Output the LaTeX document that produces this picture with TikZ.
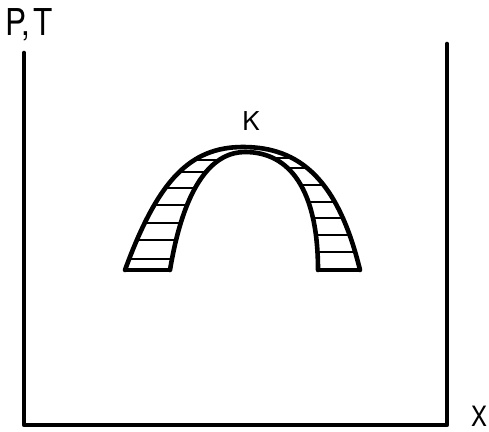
\documentclass[tikz,border=0pt]{standalone}
\usepackage{fontspec}
\setmainfont{TeX Gyre Heros}
\begin{document}
\begin{tikzpicture}[x=1pt,y=-1pt,
  axis/.style={line width=4.6pt,line cap=round,line join=round},
  curve/.style={line width=4.6pt,line cap=round},
  rung/.style={line width=2.8pt},
  lbl/.style={inner sep=0pt}]
\useasboundingbox (0,0) rectangle (489,431);
% axes
\coordinate (top) at (24,53);
\coordinate (origin) at (24,425);
\coordinate (xend) at (447,425);
\coordinate (rtop) at (447,44);
\draw[axis] (top) -- (origin) -- (xend) -- (rtop);
\node[lbl,anchor=base west,font=\fontsize{37}{37}\selectfont,xscale=0.85] (pt) at (5,35) {P,\hspace{3pt}T};
\node[lbl,anchor=base west,font=\fontsize{28}{28}\selectfont,xscale=0.85] (xl) at (471,426) {X};
\node[lbl,anchor=base,font=\fontsize{26}{26}\selectfont] (k) at (251,130) {K};
% band region
\def\outerpath{(125,270) .. controls (158,180) and (190,147) .. (243,147) .. controls (300,147) and (338,180) .. (360,270)}
\def\innerpath{(318,270) .. controls (318,190) and (290,152) .. (245,152) .. controls (215,152) and (185,180) .. (170,270)}
\begin{scope}
  \clip \outerpath -- \innerpath -- cycle;
  \foreach \y in {259,240,223,205,188,172,160} \draw[rung] (100,\y) -- (240,\y);
  \foreach \y in {252,235,218,202,185,168,158} \draw[rung] (250,\y) -- (400,\y);
\end{scope}
\draw[curve] \outerpath;
\draw[curve] \innerpath;
\draw[rung,line width=3.2pt] (125,270) -- (170,270);
\draw[rung,line width=3.2pt] (318,270) -- (360,270);
\end{tikzpicture}
\end{document}
